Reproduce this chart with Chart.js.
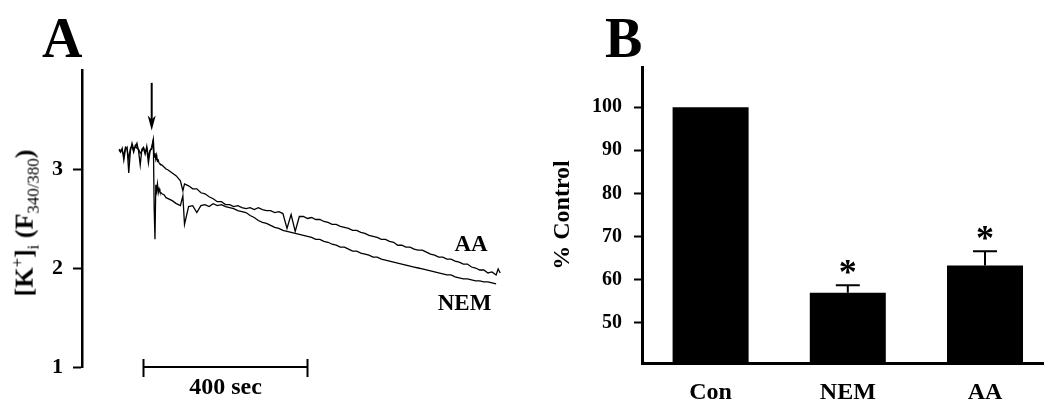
<!DOCTYPE html>
<html>
<head>
<meta charset="utf-8">
<script src="https://cdn.jsdelivr.net/npm/chart.js@4.4.0/dist/chart.umd.min.js"></script>
<style>
  body { margin: 0; background: #fff; }
  #wrap { position: relative; width: 1044px; height: 401px; overflow: hidden; font-family: 'Liberation Serif', 'Times New Roman', serif; }
  canvas { position: absolute; top: 0; }
  #chartA { left: 0; }
  #chartB { left: 520px; }
  #yTitleA { position: absolute; left: 26px; top: 223px; transform: translate(-50%, -50%) rotate(-90deg); white-space: nowrap; font-weight: bold; font-size: 26px; line-height: 1; }
  #yTitleA sub, #yTitleA sup { font-size: 65%; font-weight: normal; }
</style>
</head>
<body>
<div id="wrap">
  <canvas id="chartA" width="520" height="401"></canvas>
  <canvas id="chartB" width="524" height="401"></canvas>
  <div id="yTitleA">[K<sup>+</sup>]<sub>i</sub> (F<sub>340/380</sub>)</div>
</div>
<script>
// === Panel A: fluorescence traces (time in sec) ===
const timeA = [
  0, 4, 8, 12, 16, 20, 24, 28, 32, 36, 40, 44, 48, 52, 56, 60, 64, 68, 72, 76, 80, 84,
  86, 88, 90, 92, 94, 96, 98,
  100, 105, 110, 115, 120, 130, 140, 150, 156, 160,
  170, 180, 190, 200, 210, 220, 230, 240, 250,
  260, 270, 280, 290, 300, 310, 320, 330, 340,
  350, 360, 370, 380, 390, 400, 410, 420, 430,
  440, 450, 460, 470, 480, 490, 500, 510, 520,
  530, 540, 550, 560, 570, 580, 590, 600, 610,
  620, 630, 640, 650, 660, 670, 680, 690, 700,
  710, 720, 730, 740, 750, 760, 770, 780, 790,
  800, 810, 820, 830, 840, 850, 860, 870, 880,
  890, 900, 910, 920,
  925, 930
];
const aaTrace = [
  3.19, 3.17, 3.21, 3.09, 3.20, 3.22, 2.96, 3.18, 3.26, 3.20, 3.22, 3.26, 3.18, 3.04, 3.20, 3.22, 3.17, 3.20, 3.06, 3.18, 3.22, 3.30,
  3.12, 3.16, 3.10, 3.14, 3.08, 3.09, 3.06,
  3.05, 3.04, 3.02, 3.00, 2.99, 2.96, 2.93, 2.88, 2.78, 2.85,
  2.83, 2.80, 2.80, 2.76, 2.75, 2.72, 2.70, 2.67, 2.67,
  2.64, 2.64, 2.62, 2.63, 2.61, 2.60, 2.61, 2.59, 2.61,
  2.59, 2.58, 2.58, 2.56, 2.57, 2.55, 2.40, 2.54, 2.37,
  2.52, 2.52, 2.50, 2.51, 2.49, 2.49, 2.47, 2.46, 2.44,
  2.44, 2.42, 2.41, 2.40, 2.38, 2.38, 2.36, 2.35, 2.33,
  2.32, 2.31, 2.29, 2.29, 2.27, 2.26, 2.23, 2.23, 2.21,
  2.21, 2.19, 2.18, 2.18, 2.16, 2.14, 2.13, 2.11, 2.11,
  2.09, 2.09, 2.07, 2.06, 2.04, 2.04, 2.01, 2.00, 1.98,
  1.98, 1.95, 1.96, 1.93,
  1.99, 1.95
];
const nemTrace = [
  3.20, 3.19, 3.18, 3.14, 3.22, 3.20, 3.10, 3.21, 3.23, 3.17, 3.24, 3.21, 3.20, 3.16, 3.18, 3.21, 3.15, 3.23, 3.12, 3.19, 3.20, 3.30,
  2.60, 2.29, 2.84, 2.78, 2.85, 2.76, 2.80,
  2.77, 2.75, 2.74, 2.71, 2.70, 2.68, 2.65, 2.63, 2.73, 2.44,
  2.62, 2.63, 2.56, 2.63, 2.64, 2.62, 2.65, 2.63, 2.64,
  2.62, 2.61, 2.60, 2.58, 2.57, 2.56, 2.53, 2.51, 2.48,
  2.46, 2.45, 2.43, 2.41, 2.40, 2.38, 2.37, 2.36, 2.35,
  2.34, 2.33, 2.32, 2.31, 2.29, 2.29, 2.27, 2.26, 2.24,
  2.23, 2.21, 2.21, 2.19, 2.17, 2.17, 2.15, 2.14, 2.13,
  2.11, 2.11, 2.09, 2.08, 2.07, 2.06, 2.05, 2.04, 2.03,
  2.02, 2.01, 2.00, 1.99, 1.98, 1.97, 1.96, 1.95, 1.94,
  1.93, 1.93, 1.91, 1.90, 1.89, 1.89, 1.88, 1.87, 1.87,
  1.86, 1.86, 1.85, 1.84,
  null, null
];
const yTicksA = [1, 2, 3];
const arrowTime = 80;
const scaleBar = [60, 460];
const scaleBarLabel = '400 sec';
const traceLabelsA = [
  { text: 'AA', t: 859, v: 2.17 },
  { text: 'NEM', t: 843, v: 1.58 }
];

// === Panel B: % of control ===
const barCategories = ['Con', 'NEM', 'AA'];
const barValues = [100, 57.0, 63.3];
const barErrors = [0, 1.7, 3.3];
const barStars = [false, true, true];
const yTicksB = [50, 60, 70, 80, 90, 100];

const FONT = "'Liberation Serif', 'Times New Roman', serif";
Chart.defaults.font.family = FONT;
Chart.defaults.font.weight = 'bold';
Chart.defaults.color = '#000';

const panelAExtras = {
  id: 'panelAExtras',
  afterDraw(chart) {
    const { ctx, scales: { x, y } } = chart;
    ctx.save();
    ctx.fillStyle = '#000';
    ctx.strokeStyle = '#000';
    ctx.textBaseline = 'alphabetic';

    ctx.font = `bold 56px ${FONT}`;
    ctx.textAlign = 'left';
    ctx.fillText('A', 42, 57);

    // arrow marking the addition
    const ax = x.getPixelForValue(arrowTime);
    const aTop = y.getPixelForValue(3.87);
    const aTip = y.getPixelForValue(3.39);
    ctx.lineWidth = 2;
    ctx.beginPath();
    ctx.moveTo(ax, aTop);
    ctx.lineTo(ax, aTip - 10);
    ctx.stroke();
    ctx.beginPath();
    ctx.moveTo(ax - 4, aTip - 15);
    ctx.lineTo(ax, aTip);
    ctx.lineTo(ax + 4, aTip - 15);
    ctx.lineTo(ax, aTip - 11);
    ctx.closePath();
    ctx.fill();

    // time scale bar
    const sx0 = x.getPixelForValue(scaleBar[0]);
    const sx1 = x.getPixelForValue(scaleBar[1]);
    const sy = y.getPixelForValue(1);
    ctx.beginPath();
    ctx.moveTo(sx0, sy); ctx.lineTo(sx1, sy);
    ctx.moveTo(sx0, sy - 8); ctx.lineTo(sx0, sy + 10);
    ctx.moveTo(sx1, sy - 8); ctx.lineTo(sx1, sy + 10);
    ctx.stroke();

    ctx.font = `bold 24px ${FONT}`;
    ctx.textAlign = 'center';
    ctx.fillText(scaleBarLabel, (sx0 + sx1) / 2, sy + 27);

    ctx.font = `bold 23px ${FONT}`;
    traceLabelsA.forEach(l => ctx.fillText(l.text, x.getPixelForValue(l.t), y.getPixelForValue(l.v)));
    ctx.restore();
  }
};

const panelBExtras = {
  id: 'panelBExtras',
  afterDatasetsDraw(chart) {
    const { ctx, scales: { x, y } } = chart;
    ctx.save();
    ctx.strokeStyle = '#000';
    ctx.fillStyle = '#000';
    ctx.lineWidth = 2;
    ctx.textAlign = 'center';
    ctx.textBaseline = 'alphabetic';
    barValues.forEach((v, i) => {
      if (!barErrors[i]) return;
      const cx = x.getPixelForValue(i);
      const yb = y.getPixelForValue(v);
      const yt = y.getPixelForValue(v + barErrors[i]);
      ctx.beginPath();
      ctx.moveTo(cx, yb); ctx.lineTo(cx, yt);
      ctx.moveTo(cx - 12, yt); ctx.lineTo(cx + 12, yt);
      ctx.stroke();
      if (barStars[i]) {
        ctx.font = `bold 36px ${FONT}`;
        ctx.fillText('*', cx, yt - 1);
      }
    });
    ctx.font = `bold 56px ${FONT}`;
    ctx.textAlign = 'left';
    ctx.fillText('B', 85, 57);
    ctx.restore();
  }
};

new Chart(document.getElementById('chartA'), {
  type: 'line',
  data: {
    datasets: [
      { label: 'AA', data: timeA.map((t, i) => ({ x: t, y: aaTrace[i] })), borderColor: '#000', borderWidth: 1.3, pointRadius: 0, tension: 0 },
      { label: 'NEM', data: timeA.map((t, i) => ({ x: t, y: nemTrace[i] })), borderColor: '#000', borderWidth: 1.3, pointRadius: 0, tension: 0 }
    ]
  },
  options: {
    responsive: false,
    animation: false,
    devicePixelRatio: 1,
    layout: { padding: { top: 70, right: 12, bottom: 34, left: 0 } },
    plugins: { legend: { display: false }, tooltip: { enabled: false } },
    scales: {
      x: { type: 'linear', min: -90, max: 949, display: false },
      y: {
        min: 1, max: 4,
        afterBuildTicks: s => { s.ticks = yTicksA.map(v => ({ value: v })); },
        afterFit: s => { s.width = 82; },
        grid: { drawOnChartArea: false, tickLength: 9, tickWidth: 2, tickColor: '#000' },
        border: { display: true, color: '#000', width: 2.5 },
        ticks: { font: { size: 22, weight: 'bold' }, color: '#000', padding: 10 }
      }
    }
  },
  plugins: [panelAExtras]
});

new Chart(document.getElementById('chartB'), {
  type: 'bar',
  data: {
    datasets: [{
      data: barValues.map((v, i) => ({ x: i, y: v })),
      backgroundColor: '#000',
      borderWidth: 0,
      barPercentage: 0.554,
      categoryPercentage: 1
    }]
  },
  options: {
    responsive: false,
    animation: false,
    devicePixelRatio: 1,
    layout: { padding: { top: 67, right: 0, bottom: 0, left: 0 } },
    plugins: { legend: { display: false }, tooltip: { enabled: false } },
    scales: {
      x: {
        type: 'linear', min: -0.5, max: 2.43, offset: false,
        afterBuildTicks: s => { s.ticks = barCategories.map((c, i) => ({ value: i })); },
        afterFit: s => { s.height = 38; },
        grid: { display: false, offset: false },
        border: { display: true, color: '#000', width: 3 },
        ticks: { callback: v => barCategories[v], font: { size: 24, weight: 'bold' }, color: '#000', padding: 7, maxRotation: 0, autoSkip: false }
      },
      y: {
        min: 40.7, max: 109.3,
        afterBuildTicks: s => { s.ticks = yTicksB.map(v => ({ value: v })); },
        afterFit: s => { s.width = 122; },
        grid: { drawOnChartArea: false, tickLength: 8, tickWidth: 2, tickColor: '#000' },
        border: { display: true, color: '#000', width: 3 },
        ticks: { font: { size: 20, weight: 'bold' }, color: '#000', padding: 12 },
        title: { display: true, text: '% Control', font: { size: 24, weight: 'bold' }, color: '#000', padding: { top: 28 } }
      }
    }
  },
  plugins: [panelBExtras]
});
</script>
</body>
</html>
